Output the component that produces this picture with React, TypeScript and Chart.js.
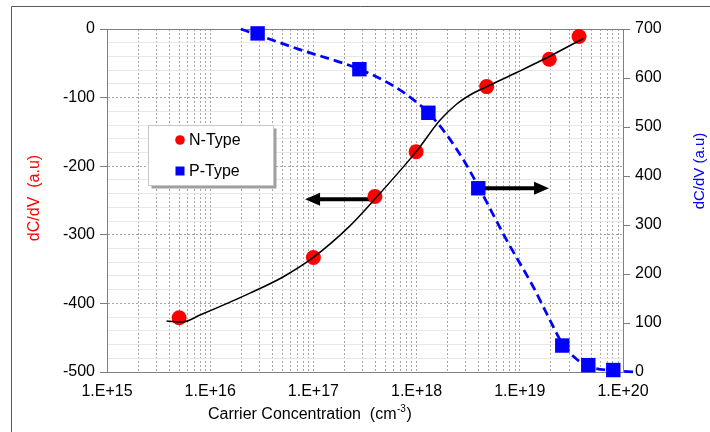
import React, { useEffect, useRef } from "react";
import { Chart, registerables } from "chart.js";

Chart.register(...registerables);

// ---- data ----
const xTickLabels = ["1.E+15", "1.E+16", "1.E+17", "1.E+18", "1.E+19", "1.E+20"];
const leftTickLabels = ["-500", "-400", "-300", "-200", "-100", "0"];
const rightTickLabels = ["0", "100", "200", "300", "400", "500", "600", "700"];

const nTypeX = [5.0e15, 1.0e17, 3.95e17, 9.9e17, 4.78e18, 1.93e19, 3.75e19];
const nTypeY = [-421, -333, -244, -179, -84, -44, -11];

const pTypeX = [2.88e16, 2.79e17, 1.3e18, 3.96e18, 2.58e19, 4.61e19, 8.05e19];
const pTypeY = [691, 618, 529, 375, 54, 14, 4];

const nFitX = [3.78e15, 5.45e15, 7.96e15, 2.43e16, 5.07e16, 9.9e16, 2.26e17, 4.1e17, 1.0e18, 1.69e18, 2.45e18, 3.29e18, 4.78e18, 9.33e18, 1.93e19, 4.12e19];
const nFitY = [-425.7, -427, -417, -385, -361.5, -333.4, -287, -245, -178, -132.7, -109.3, -96.2, -84.1, -63.4, -40.1, -13.8];

const pFitX = [1.98e16, 7.4e16, 2.79e17, 5.52e17, 8.63e17, 1.3e18, 1.96e18, 2.84e18, 3.94e18, 7.46e18, 1.34e19, 1.96e19, 2.57e19, 3.43e19, 4.58e19, 8.0e19, 1.34e20];
const pFitY = [700, 658, 618, 588, 561, 529, 484, 433, 380, 269, 175, 106, 59, 29, 12, 3, 0];

const leftArrowX = [4.0e17, 8.3e16];
const leftArrowY = -248;
const rightArrowX = [4.0e18, 1.92e19];
const rightArrowY = 375;

const legendLabels = ["N-Type", "P-Type"];
const xTitle = "Carrier Concentration  (cm";
const xTitleSup = "-3";
const leftTitle = "dC/dV  (a.u)";
const rightTitle = "dC/dV (a.u)";

const RED = "#ff0000";
const BLUE = "#0000ff";
const FONT = "'Liberation Sans', Arial, sans-serif";

const xMin = Number("1e" + xTickLabels[0].split("+")[1]);
const xMax = Number("1e" + xTickLabels[xTickLabels.length - 1].split("+")[1]);
const leftMin = Number(leftTickLabels[0]);
const leftMax = Number(leftTickLabels[leftTickLabels.length - 1]);
const rightMin = Number(rightTickLabels[0]);
const rightMax = Number(rightTickLabels[rightTickLabels.length - 1]);

function xTickValues(): number[] {
  const out: number[] = [];
  for (let i = 0; i < xTickLabels.length - 1; i++) {
    const base = Number("1e" + xTickLabels[i].split("+")[1]);
    for (let m = 1; m <= 9; m++) out.push(m * base);
  }
  out.push(xMax);
  return out;
}

function isPow10(v: number) {
  const l = Math.log10(v);
  return Math.abs(l - Math.round(l)) < 1e-9;
}

function drawArrow(ctx: CanvasRenderingContext2D, x0: number, x1: number, y: number) {
  const dir = Math.sign(x1 - x0);
  const headLen = 15;
  const headHalf = 6.5;
  ctx.save();
  ctx.strokeStyle = "#000";
  ctx.fillStyle = "#000";
  ctx.lineWidth = 4;
  ctx.beginPath();
  ctx.moveTo(x0, y);
  ctx.lineTo(x1 - dir * headLen + dir, y);
  ctx.stroke();
  ctx.beginPath();
  ctx.moveTo(x1, y);
  ctx.lineTo(x1 - dir * headLen, y - headHalf);
  ctx.lineTo(x1 - dir * headLen, y + headHalf);
  ctx.closePath();
  ctx.fill();
  ctx.restore();
}

const decorPlugin = {
  id: "decor",
  beforeDatasetsDraw(chart: any) {
    const { ctx, chartArea: a, scales } = chart;
    ctx.save();
    ctx.strokeStyle = "#808080";
    ctx.lineWidth = 1;
    ctx.beginPath();
    const t = Math.round(a.top) + 0.5;
    ctx.moveTo(a.left, t);
    ctx.lineTo(a.right, t);
    ctx.stroke();
    ctx.restore();
    const x = scales.x;
    drawArrow(ctx, x.getPixelForValue(leftArrowX[0]), x.getPixelForValue(leftArrowX[1]), scales.y.getPixelForValue(leftArrowY));
    drawArrow(ctx, x.getPixelForValue(rightArrowX[0]), x.getPixelForValue(rightArrowX[1]), scales.y2.getPixelForValue(rightArrowY));
  },
  afterDraw(chart: any) {
    const { ctx } = chart;
    ctx.save();
    // outer frame
    ctx.strokeStyle = "#595959";
    ctx.lineWidth = 1;
    ctx.beginPath();
    ctx.moveTo(11.5, 432);
    ctx.lineTo(11.5, 6.5);
    ctx.lineTo(710, 6.5);
    ctx.stroke();

    // x title
    ctx.fillStyle = "#000";
    ctx.font = "16px " + FONT;
    ctx.textBaseline = "alphabetic";
    ctx.textAlign = "left";
    let tx = 208;
    ctx.fillText(xTitle, tx, 419);
    tx += ctx.measureText(xTitle).width;
    ctx.font = "10px " + FONT;
    ctx.fillText(xTitleSup, tx + 0.5, 412);
    tx += ctx.measureText(xTitleSup).width + 1;
    ctx.font = "16px " + FONT;
    ctx.fillText(")", tx, 419);

    // left title
    ctx.save();
    ctx.translate(35, 198);
    ctx.rotate(-Math.PI / 2);
    ctx.textAlign = "center";
    ctx.textBaseline = "middle";
    ctx.fillStyle = RED;
    ctx.font = "16px " + FONT;
    ctx.fillText(leftTitle, 0, 0);
    ctx.restore();

    // right title
    ctx.save();
    ctx.translate(700, 171);
    ctx.rotate(-Math.PI / 2);
    ctx.textAlign = "center";
    ctx.textBaseline = "middle";
    ctx.fillStyle = BLUE;
    ctx.font = "15px " + FONT;
    ctx.fillText(rightTitle, 0, 0);
    ctx.restore();

    // legend box
    const bx = 148.5, by = 125.5, bw = 125, bh = 60;
    ctx.fillStyle = "#a0a0a0";
    ctx.fillRect(bx + 3, by + 3, bw, bh);
    ctx.fillStyle = "#ffffff";
    ctx.fillRect(bx, by, bw, bh);
    ctx.strokeStyle = "#c8c8c8";
    ctx.strokeRect(bx, by, bw, bh);

    ctx.fillStyle = RED;
    ctx.beginPath();
    ctx.arc(180, 140, 4.8, 0, Math.PI * 2);
    ctx.fill();
    ctx.fillStyle = BLUE;
    ctx.fillRect(175.5, 166.5, 9, 9);

    ctx.fillStyle = "#000";
    ctx.font = "16px " + FONT;
    ctx.textAlign = "left";
    ctx.textBaseline = "middle";
    ctx.fillText(legendLabels[0], 189, 140.5);
    ctx.fillText(legendLabels[1], 189, 171.5);
    ctx.restore();
  },
};

export default function App() {
  const ref = useRef<HTMLCanvasElement>(null);

  useEffect(() => {
    if (!ref.current) return;
    Chart.defaults.font.family = FONT;
    Chart.defaults.color = "#000";

    const leftTicks: number[] = [];
    for (let v = leftMin; v <= leftMax; v += 20) leftTicks.push(v);

    const chart = new Chart(ref.current, {
      type: "scatter",
      data: {
        datasets: [
          {
            label: "N fit",
            data: nFitX.map((x, i) => ({ x, y: nFitY[i] })),
            yAxisID: "y",
            showLine: true,
            borderColor: "#000",
            borderWidth: 1.5,
            pointRadius: 0,
            cubicInterpolationMode: "monotone",
            order: 0,
          },
          {
            label: legendLabels[0],
            data: nTypeX.map((x, i) => ({ x, y: nTypeY[i] })),
            yAxisID: "y",
            pointStyle: "circle",
            pointRadius: 7.5,
            backgroundColor: RED,
            borderColor: RED,
            borderWidth: 0,
            order: 1,
          },
          {
            label: legendLabels[1],
            data: pTypeX.map((x, i) => ({ x, y: pTypeY[i] })),
            yAxisID: "y2",
            pointStyle: "rect",
            pointRadius: 10.2,
            backgroundColor: BLUE,
            borderColor: BLUE,
            borderWidth: 0,
            clip: false,
            order: 2,
          },
          {
            label: "P fit",
            data: pFitX.map((x, i) => ({ x, y: pFitY[i] })),
            yAxisID: "y2",
            showLine: true,
            borderColor: BLUE,
            borderWidth: 2.75,
            borderDash: [9, 5],
            pointRadius: 0,
            cubicInterpolationMode: "monotone",
            clip: false,
            order: 3,
          },
        ],
      } as any,
      options: {
        animation: false,
        responsive: false,
        devicePixelRatio: 1,
        events: [],
        layout: { padding: { top: 29, left: 0, right: 0, bottom: 0 } },
        plugins: { legend: { display: false }, tooltip: { enabled: false }, title: { display: false } },
        scales: {
          x: {
            type: "logarithmic",
            position: "bottom",
            min: xMin,
            max: xMax,
            afterBuildTicks: (s: any) => {
              s.ticks = xTickValues().map((value) => ({ value }));
            },
            afterFit: (s: any) => {
              s.height = 60;
            },
            ticks: {
              autoSkip: false,
              maxRotation: 0,
              minRotation: 0,
              padding: 10,
              font: { size: 16 },
              color: "#000",
              callback: (v: any) => (isPow10(Number(v)) ? xTickLabels[Math.round(Math.log10(Number(v))) - Math.round(Math.log10(xMin))] : ""),
            },
            grid: { color: "#a6a6a6", lineWidth: 1, drawTicks: false },
            border: { display: true, color: "#7f7f7f", width: 1, dash: [2, 2] },
          },
          y: {
            type: "linear",
            position: "left",
            min: leftMin,
            max: leftMax,
            afterBuildTicks: (s: any) => {
              s.ticks = leftTicks.map((value) => ({ value }));
            },
            afterFit: (s: any) => {
              s.width = 107;
            },
            ticks: {
              autoSkip: false,
              padding: 5,
              font: { size: 16 },
              color: "#000",
              callback: (v: any) => (Number(v) % 100 === 0 ? leftTickLabels[(Number(v) - leftMin) / 100] : ""),
            },
            grid: {
              color: (c: any) => (c.tick && c.tick.value % 100 === 0 ? "#a6a6a6" : "#e8e8e8"),
              tickColor: (c: any) => (c.tick && c.tick.value % 100 === 0 ? "#7f7f7f" : "rgba(0,0,0,0)"),
              tickLength: 7,
              lineWidth: 1,
              drawTicks: true,
            },
            border: {
              display: true,
              color: "#7f7f7f",
              width: 1,
              dash: (c: any) => (c.tick && c.tick.value % 100 === 0 ? [2, 2] : []),
            } as any,
          },
          y2: {
            type: "linear",
            position: "right",
            min: rightMin,
            max: rightMax,
            afterBuildTicks: (s: any) => {
              s.ticks = rightTickLabels.map((l) => ({ value: Number(l) }));
            },
            afterFit: (s: any) => {
              s.width = 87;
            },
            ticks: {
              autoSkip: false,
              padding: 5,
              font: { size: 16 },
              color: "#000",
              callback: (v: any) => String(v),
            },
            grid: { drawOnChartArea: false, tickLength: 7, tickColor: "#7f7f7f", drawTicks: true },
            border: { display: true, color: "#7f7f7f", width: 1 },
          },
        },
      } as any,
      plugins: [decorPlugin],
    });
    return () => chart.destroy();
  }, []);

  return (
    <div style={{ position: "fixed", left: 0, top: 0, width: 710, height: 432, background: "#fff" }}>
      <canvas ref={ref} width={710} height={432} style={{ display: "block", width: 710, height: 432 }} />
    </div>
  );
}
